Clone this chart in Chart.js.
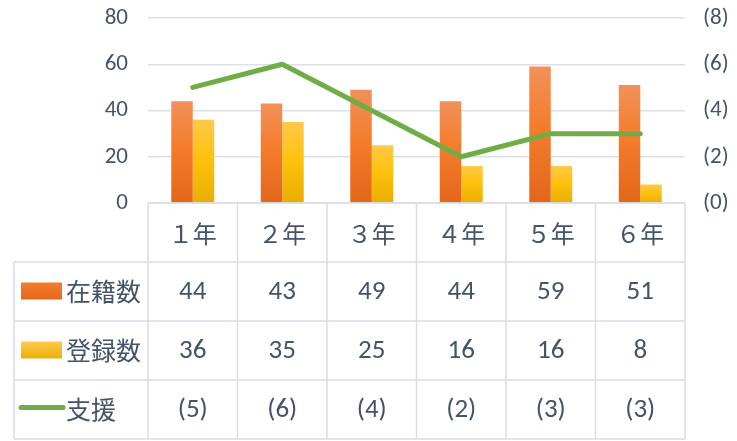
<!DOCTYPE html>
<html>
<head>
<meta charset="utf-8">
<script src="https://cdn.jsdelivr.net/npm/chart.js@4.4.1/dist/chart.umd.min.js"></script>
<style>
  html, body { margin: 0; padding: 0; background: #fff; }
</style>
</head>
<body>
<canvas id="chart" width="737" height="441"></canvas>
<script>
// data
const grades = ['１年', '２年', '３年', '４年', '５年', '６年'];
const enrolled = [44, 43, 49, 44, 59, 51];     // 在籍数
const registered = [36, 35, 25, 16, 16, 8];    // 登録数
const support = [5, 6, 4, 2, 3, 3];            // 支援
const seriesNames = ['在籍数', '登録数', '支援'];

const TEXT = '#44526A';
const LINE = '#D9DEE6';
const NUM_FONT = "Carlito, 'Liberation Sans Narrow', Lato, sans-serif";
const JP_FONT = "'Noto Sans CJK JP', sans-serif";

function barFill(top, mid, bottom) {
    return (ctx) => {
        const chart = ctx.chart;
        if (!chart.chartArea || ctx.type !== 'data') return mid;
        const y = chart.scales.y;
        const g = chart.ctx.createLinearGradient(0, y.getPixelForValue(ctx.raw), 0, y.getPixelForValue(0));
        g.addColorStop(0, top);
        g.addColorStop(0.45, mid);
        g.addColorStop(1, bottom);
        return g;
    };
}

const orangeFill = barFill('#F1915A', '#F47C2C', '#E3661A');
const yellowFill = barFill('#FFC94A', '#FFC20E', '#E8AE00');

// fixed axis widths, no extra label padding above/below the plot
function fitAxis(width) {
    return (scale) => {
        scale.width = width;
        scale.paddingTop = 0;
        scale.paddingBottom = 0;
    };
}

// draws the data table under the plot, columns taken from the x scale
const tablePlugin = {
    id: 'dataTable',
    afterDraw(chart) {
        const { ctx, chartArea: a, scales: { x } } = chart;
        const n = grades.length;
        const colW = (a.right - a.left) / n;
        const rowH = 59;
        const top = a.bottom;
        const left = 14;

        ctx.save();
        ctx.strokeStyle = LINE;
        ctx.lineWidth = 1.5;
        ctx.beginPath();
        ctx.moveTo(a.left, top);
        ctx.lineTo(a.right, top);
        for (let k = 1; k <= 4; k++) {
            ctx.moveTo(left, top + rowH * k);
            ctx.lineTo(a.right, top + rowH * k);
        }
        for (let i = 0; i <= n; i++) {
            ctx.moveTo(a.left + colW * i, top);
            ctx.lineTo(a.left + colW * i, top + rowH * 4);
        }
        ctx.moveTo(left, top + rowH);
        ctx.lineTo(left, top + rowH * 4);
        ctx.stroke();

        ctx.fillStyle = TEXT;
        ctx.textAlign = 'center';
        ctx.textBaseline = 'middle';

        ctx.font = '24px ' + JP_FONT;
        grades.forEach((g, i) => ctx.fillText(g, x.getPixelForValue(i), top + rowH / 2 + 1));

        const rows = [
            enrolled.map(String),
            registered.map(String),
            support.map(v => '(' + v + ')')
        ];
        ctx.font = '27px ' + NUM_FONT;
        rows.forEach((vals, r) => {
            const cy = top + rowH * (r + 1.5) + 1;
            vals.forEach((v, i) => ctx.fillText(v, x.getPixelForValue(i), cy));
        });

        // legend keys in the first column
        const cy1 = top + rowH * 1.5;
        const cy2 = top + rowH * 2.5;
        const cy3 = top + rowH * 3.5;
        let g = ctx.createLinearGradient(0, cy1 - 8, 0, cy1 + 9);
        g.addColorStop(0, '#F47C2C'); g.addColorStop(1, '#E3661A');
        ctx.fillStyle = g;
        ctx.fillRect(21, cy1 - 9, 41, 17);
        g = ctx.createLinearGradient(0, cy2 - 8, 0, cy2 + 9);
        g.addColorStop(0, '#FFC94A'); g.addColorStop(1, '#E8AE00');
        ctx.fillStyle = g;
        ctx.fillRect(21, cy2 - 9, 41, 17);
        ctx.strokeStyle = '#70AD47';
        ctx.lineWidth = 5;
        ctx.lineCap = 'round';
        ctx.beginPath();
        ctx.moveTo(21, cy3 - 2);
        ctx.lineTo(63, cy3 - 2);
        ctx.stroke();

        ctx.fillStyle = TEXT;
        ctx.textAlign = 'left';
        ctx.font = '25px ' + JP_FONT;
        ctx.fillText(seriesNames[0], 66, cy1);
        ctx.fillText(seriesNames[1], 66, cy2);
        ctx.fillText(seriesNames[2], 66, cy3);
        ctx.restore();
    }
};

new Chart(document.getElementById('chart'), {
    data: {
        labels: grades,
        datasets: [
            {
                type: 'line',
                label: seriesNames[2],
                data: support,
                yAxisID: 'y1',
                borderColor: '#70AD47',
                borderWidth: 5,
                borderCapStyle: 'round',
                borderJoinStyle: 'round',
                pointRadius: 0,
                tension: 0,
                order: 0
            },
            {
                type: 'bar',
                label: seriesNames[0],
                data: enrolled,
                yAxisID: 'y',
                backgroundColor: orangeFill,
                barPercentage: 1,
                categoryPercentage: 0.48,
                order: 1
            },
            {
                type: 'bar',
                label: seriesNames[1],
                data: registered,
                yAxisID: 'y',
                backgroundColor: yellowFill,
                barPercentage: 1,
                categoryPercentage: 0.48,
                order: 1
            }
        ]
    },
    options: {
        responsive: false,
        animation: false,
        layout: { padding: { top: 18, bottom: 238 } },
        plugins: {
            legend: { display: false },
            tooltip: { enabled: false }
        },
        scales: {
            x: { display: false },
            y: {
                position: 'left',
                min: 0,
                max: 80,
                ticks: { stepSize: 20, color: TEXT, padding: 20, font: { family: NUM_FONT, size: 23 } },
                grid: { color: '#DCDFE4', lineWidth: 1.5, drawTicks: false },
                border: { display: false },
                afterFit: fitAxis(148)
            },
            y1: {
                position: 'right',
                min: 0,
                max: 8,
                ticks: {
                    stepSize: 2,
                    color: TEXT,
                    padding: 18,
                    font: { family: NUM_FONT, size: 23 },
                    callback: v => '(' + v + ')'
                },
                grid: { drawOnChartArea: false, drawTicks: false },
                border: { display: false },
                afterFit: fitAxis(52)
            }
        }
    },
    plugins: [tablePlugin]
});
</script>
</body>
</html>
